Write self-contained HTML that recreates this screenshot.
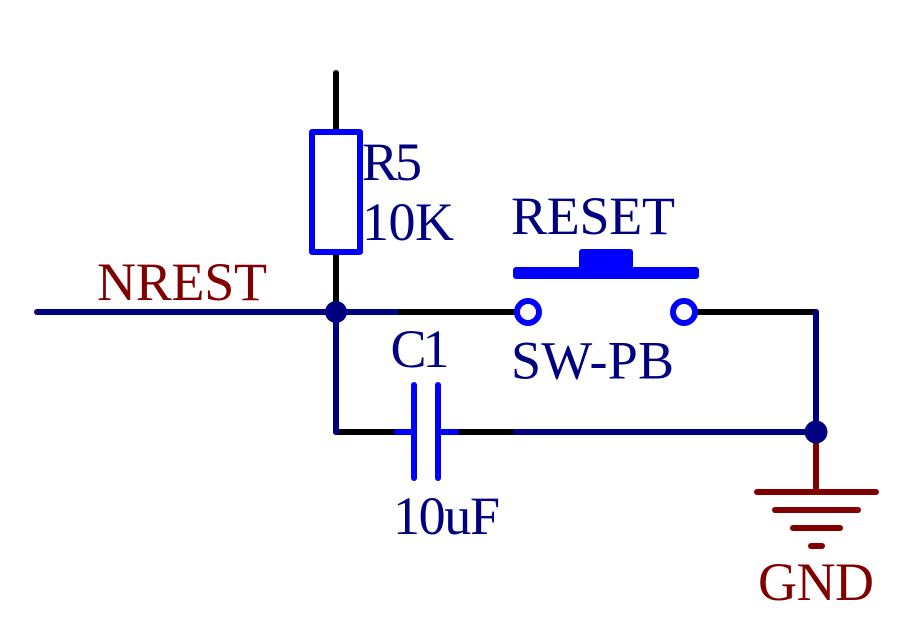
<!DOCTYPE html>
<html>
<head>
<meta charset="utf-8">
<style>
html,body{margin:0;padding:0;background:#fff;width:906px;height:631px;overflow:hidden}
svg{display:block}
text{font-family:"Liberation Serif",serif;font-size:54px}
</style>
</head>
<body>
<svg width="906" height="631" viewBox="0 0 906 631" xmlns="http://www.w3.org/2000/svg">
<rect width="906" height="631" fill="#fff"/>
<g fill="none" stroke-width="6" stroke-linecap="round" stroke-linejoin="round">
  <g stroke="#000">
    <path d="M336 73V130"/>
    <path d="M336 252V312"/>
    <path d="M396 312H516"/>
    <path d="M336 432H396"/>
    <path d="M456 432H516"/>
    <path d="M696 312H816"/>
  </g>
  <g stroke="#000080">
    <path d="M37 312H396"/>
    <path d="M336 312V432"/>
    <path d="M516 432H816"/>
    <path d="M816 312V432"/>
  </g>
  <g stroke="#800000">
    <path d="M816 432V492"/>
    <path d="M757 492H876"/>
    <path d="M775 510H858"/>
    <path d="M793 528H840"/>
    <path d="M811 546H822"/>
  </g>
  <g stroke="#0000ff">
    <rect x="312" y="132" width="48" height="120"/>
    <path d="M414 385V478"/>
    <path d="M438 385V478"/>
    <path d="M397 432H414"/>
    <path d="M438 432H456"/>
    <circle cx="528" cy="312" r="11"/>
    <circle cx="684" cy="312" r="11"/>
  </g>
</g>
<g fill="#0000ff">
  <rect x="513" y="267" width="186" height="12" rx="3"/>
  <rect x="579" y="249" width="54" height="24" rx="3"/>
</g>
<g fill="#000080">
  <circle cx="336" cy="312" r="11"/>
  <circle cx="816" cy="432" r="11.5"/>
  <text x="362" y="180" textLength="60">R5</text>
  <text x="362" y="240" textLength="92">10K</text>
  <text x="511" y="234" textLength="164">RESET</text>
  <text x="390.5" y="367" textLength="59">C1</text>
  <text x="511" y="378.5" textLength="163">SW-PB</text>
  <text x="393" y="534" textLength="107">10uF</text>
</g>
<g fill="#800000">
  <text x="97" y="300" textLength="170">NREST</text>
  <text x="758" y="600" textLength="116">GND</text>
</g>
</svg>
</body>
</html>
